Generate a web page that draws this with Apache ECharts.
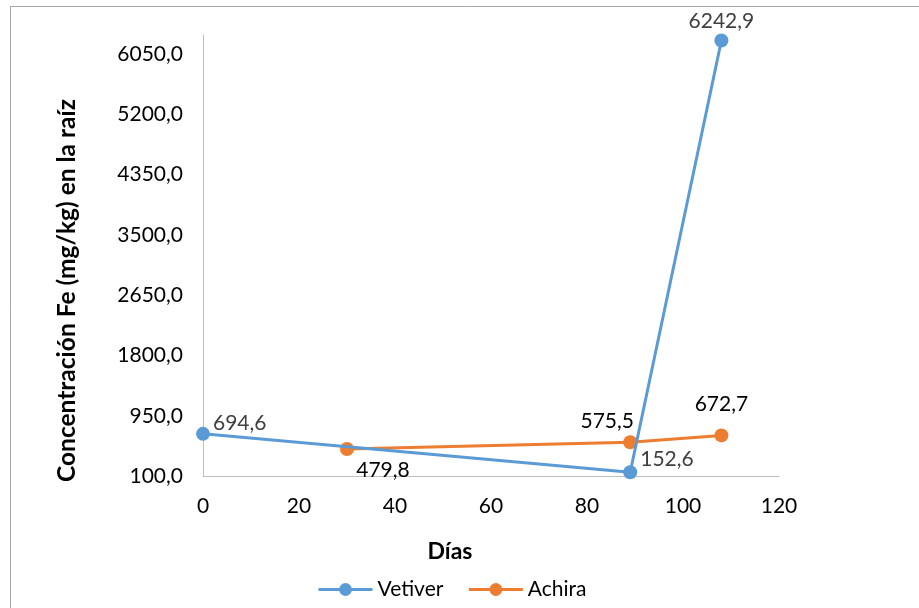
<!DOCTYPE html>
<html><head><meta charset="utf-8">
<script src="https://cdn.jsdelivr.net/npm/echarts@6/dist/echarts.min.js"></script>
<style>html,body{margin:0;padding:0;background:#fff}#c{width:919px;height:608px}</style>
</head><body><div id="c"></div>
<script>
const seriesNames = ['Vetiver', 'Achira'];
const vetiverDays = [0, 89, 108];
const vetiverValues = [694.6, 152.6, 6242.9];
const achiraDays = [30, 89, 108];
const achiraValues = [479.8, 575.5, 672.7];
const yTicks = [100, 950, 1800, 2650, 3500, 4350, 5200, 6050];
const xTicks = [0, 20, 40, 60, 80, 100, 120];

const FONT = 'Lato';
const FS = 21;
const fmt = v => v.toFixed(1).replace('.', ',');

const vetLabelPos = [
  {position: 'right', offset: [-2, -11]},
  {position: 'right', offset: [-2, -13]},
  {position: 'top', distance: 2, offset: [0, 0]}
];
const achLabelPos = [
  {position: 'bottom', offset: [36, -1]},
  {position: 'top', distance: 4, offset: [-23, 0]},
  {position: 'top', distance: 14, offset: [0, 0]}
];

function build(days, vals, posList, color) {
  return days.map((d, i) => ({
    value: [d, vals[i]],
    label: Object.assign({show: true, formatter: p => fmt(p.value[1]), color: color,
      fontFamily: FONT, fontSize: FS}, posList[i])
  }));
}

const chart = echarts.init(document.getElementById('c'));
chart.setOption({
  animation: false,
  backgroundColor: '#fff',
  grid: {left: 203, right: 140, top: 35, bottom: 132},
  legend: {
    bottom: 3, left: 312, itemGap: 24, itemWidth: 54, itemHeight: 16,
    lineStyle: {width: 3},
    textStyle: {fontFamily: FONT, fontSize: FS, color: '#000'},
    data: seriesNames
  },
  graphic: [{
    type: 'rect', silent: true,
    shape: {x: 10.5, y: 6.5, width: 1000, height: 800},
    style: {fill: 'none', stroke: '#a6a6a6', lineWidth: 1}
  }],
  xAxis: {
    type: 'value', min: 0, max: 120, interval: 20,
    name: 'Días', nameLocation: 'middle', nameGap: 64,
    nameTextStyle: {fontFamily: FONT, fontSize: 23, fontWeight: 'bold', color: '#000', padding: [0, 82, 0, 0]},
    axisLine: {show: true, lineStyle: {color: '#bfbfbf', width: 1}},
    axisTick: {show: false},
    splitLine: {show: false},
    axisLabel: {fontFamily: FONT, fontSize: FS, color: '#000', margin: 20,
      customValues: xTicks}
  },
  yAxis: {
    type: 'value', min: 100, max: 6320,
    name: 'Concentración Fe (mg/kg) en la raíz', nameLocation: 'middle', nameGap: 123, nameRotate: 90,
    nameTextStyle: {fontFamily: FONT, fontSize: 24.5, fontWeight: 'bold', color: '#000', padding: [0, 70, 0, 0]},
    axisLine: {show: true, lineStyle: {color: '#bfbfbf', width: 1}},
    axisTick: {show: false},
    splitLine: {show: false},
    axisLabel: {fontFamily: FONT, fontSize: FS, color: '#000', margin: 20,
      customValues: yTicks, formatter: v => fmt(v)}
  },
  series: [
    {
      name: seriesNames[0], type: 'line', data: build(vetiverDays, vetiverValues, vetLabelPos, '#404040'),
      symbol: 'circle', symbolSize: 14,
      lineStyle: {color: '#5B9BD5', width: 3}, itemStyle: {color: '#5B9BD5'}, z: 3
    },
    {
      name: seriesNames[1], type: 'line', data: build(achiraDays, achiraValues, achLabelPos, '#000'),
      symbol: 'circle', symbolSize: 14,
      lineStyle: {color: '#ED7D31', width: 3}, itemStyle: {color: '#ED7D31'}, z: 2
    }
  ]
});
</script></body></html>
